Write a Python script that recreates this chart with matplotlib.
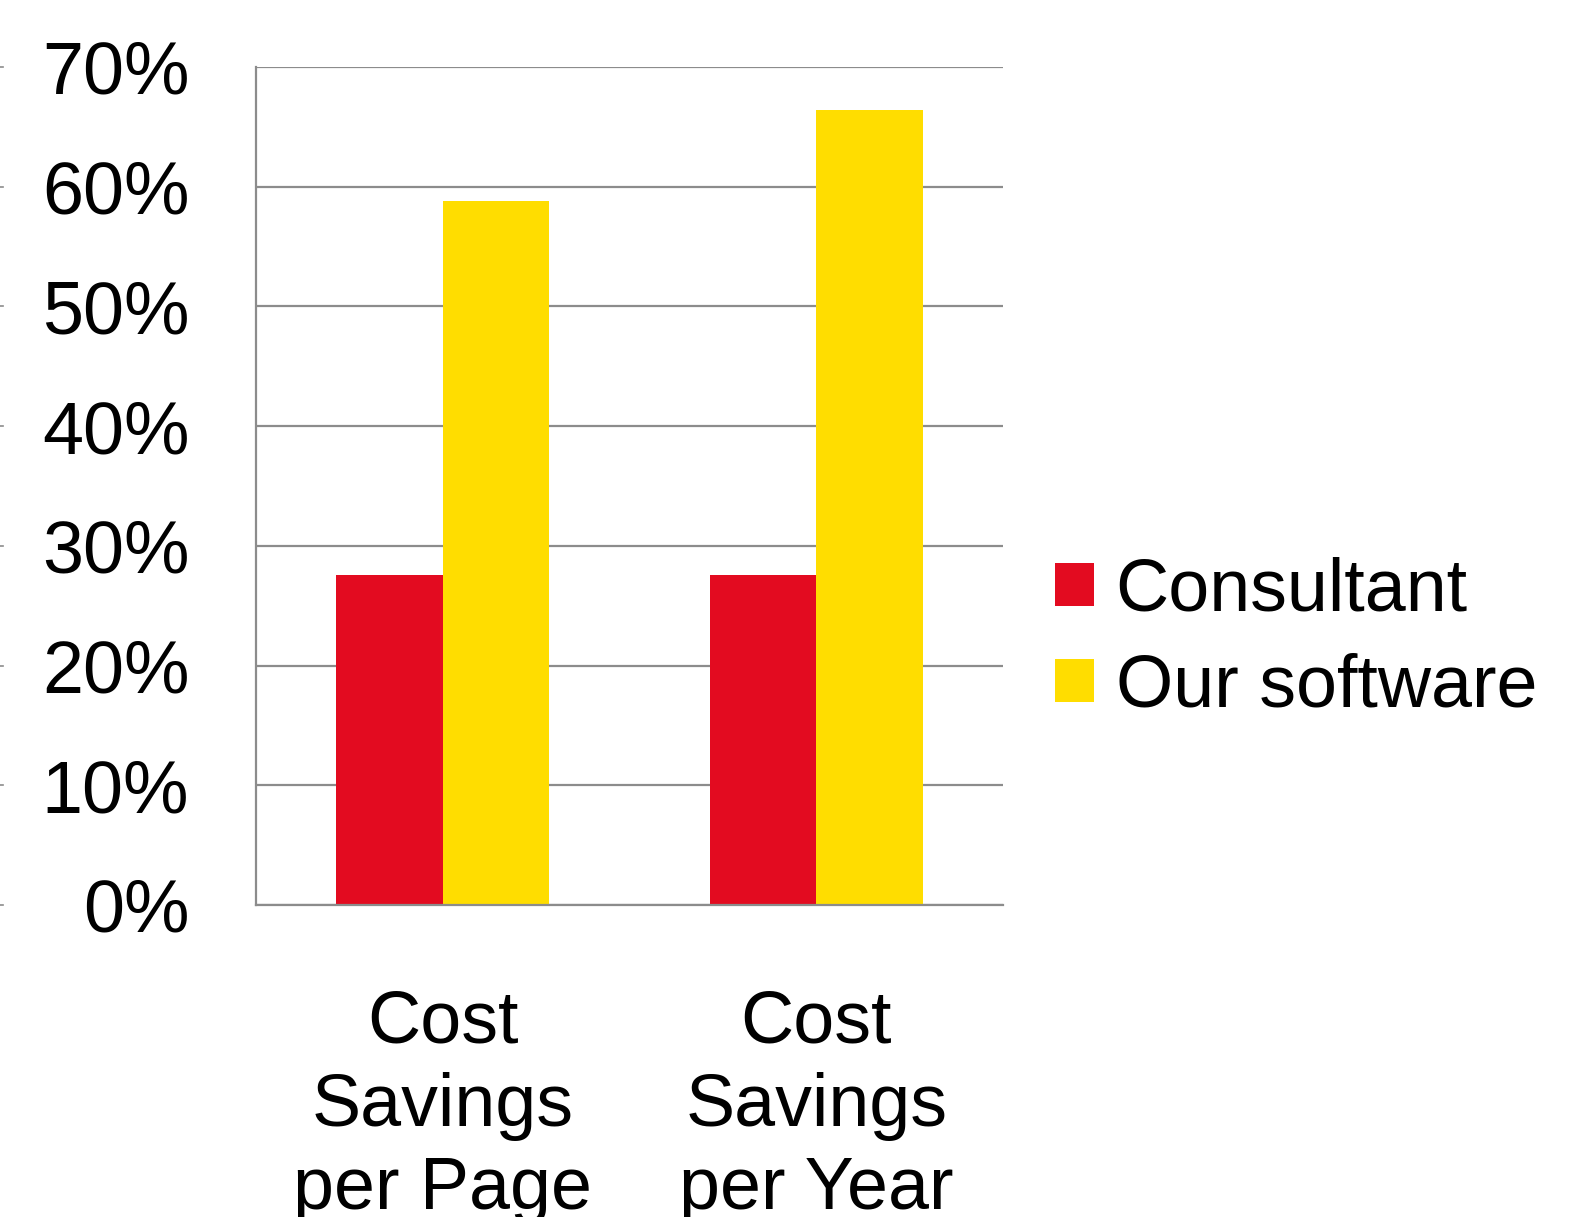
import matplotlib
matplotlib.use("Agg")
import matplotlib.pyplot as plt
import matplotlib.transforms as mtransforms
import numpy as np

plt.rcParams['font.family'] = ['Liberation Sans', 'DejaVu Sans']

# données
categories = ["Cost\nSavings\nper Page", "Cost\nSavings\nper Year"]
consultant = [0.276, 0.276]
our_software = [0.588, 0.664]
yticks = [0.0, 0.1, 0.2, 0.3, 0.4, 0.5, 0.6, 0.7]
ytick_labels = ["0%", "10%", "20%", "30%", "40%", "50%", "60%", "70%"]

red = "#E30B20"
yellow = "#FFDD00"
grey = "#8C8C8C"

fig = plt.figure(figsize=(15.91, 12.17), dpi=100)
ax = fig.add_axes([256/1591, 1 - 905/1217, (1003 - 256)/1591, (905 - 67)/1217])

x = np.arange(len(categories))
w = 0.285
ax.bar(x - w/2, consultant, w, color=red, label="Consultant", zorder=3)
ax.bar(x + w/2, our_software, w, color=yellow, label="Our software", zorder=3)

ax.set_xlim(-0.5, 1.5)
ax.set_ylim(0, 0.7)
ax.set_yticks(yticks)
ax.set_yticklabels(ytick_labels)
ax.set_xticks(x)
ax.set_xticklabels(categories, linespacing=1.27)
ax.tick_params(axis='y', length=0, pad=48, labelsize=53)
ax.tick_params(axis='x', length=0, pad=60, labelsize=53)

ax.grid(axis='y', color=grey, linewidth=1.6, zorder=0)
for s in ["top", "right"]:
    ax.spines[s].set_visible(False)
for s in ["left", "bottom"]:
    ax.spines[s].set_color(grey)
    ax.spines[s].set_linewidth(1.6)
    ax.spines[s].set_zorder(4)

# petits traits au bord gauche
trans = mtransforms.blended_transform_factory(fig.transFigure, ax.transData)
for yv in yticks:
    ax.plot([0, 3/1591], [yv, yv], color=grey, linewidth=1.2, transform=trans, clip_on=False)

leg = ax.legend(loc="center left", bbox_to_anchor=(1.07, 0.317), frameon=False,
                fontsize=53, handlelength=0.52, handleheight=0.52,
                handletextpad=0.3, labelspacing=0.37, borderaxespad=0, borderpad=0)

plt.savefig("out.png", dpi=100)
